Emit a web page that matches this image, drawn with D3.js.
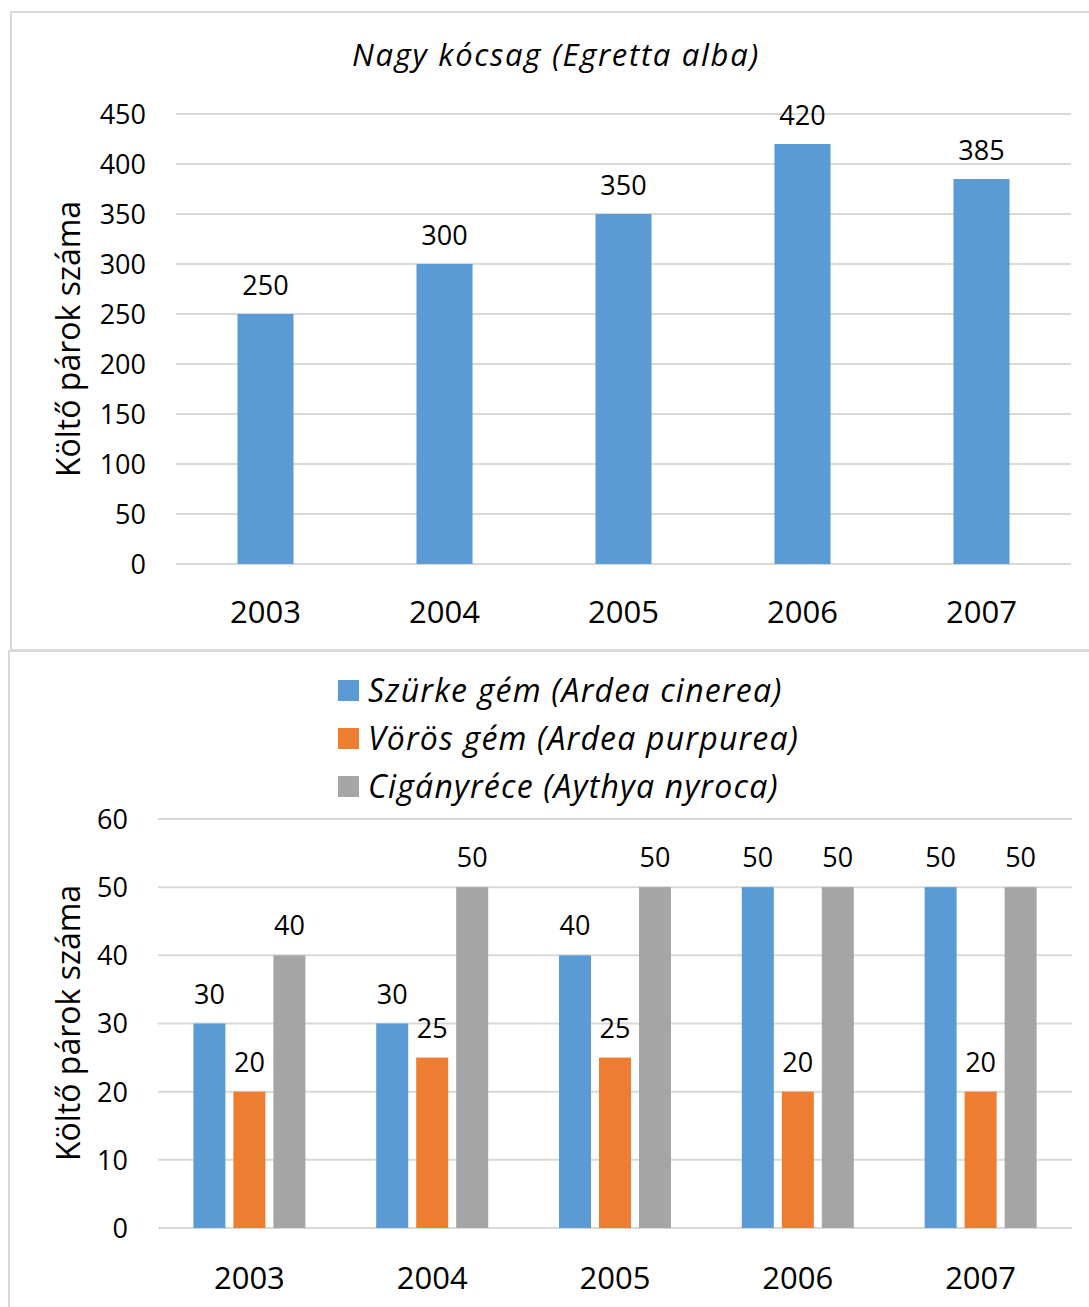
<!DOCTYPE html>
<html>
<head>
<meta charset="utf-8">
<script src="https://cdn.jsdelivr.net/npm/d3@7"></script>
<style>
html,body{margin:0;padding:0;background:#fff;}
svg{display:block;}
text{font-family:"Open Sans","Noto Sans",sans-serif;fill:#000;}
</style>
</head>
<body>
<svg id="chart" width="1089" height="1307"></svg>
<script>
// ---- Data ----
const years = ["2003","2004","2005","2006","2007"];
const egrettaValues = [250, 300, 350, 420, 385];
const topTicks = [0,50,100,150,200,250,300,350,400,450];

const seriesNames = ["Szürke gém (Ardea cinerea)","Vörös gém (Ardea purpurea)","Cigányréce (Aythya nyroca)"];
const ardeaCinerea = [30, 30, 40, 50, 50];
const ardeaPurpurea = [20, 25, 25, 20, 20];
const aythyaNyroca = [40, 50, 50, 50, 50];
const bottomTicks = [0,10,20,30,40,50,60];

const colors = ["#5b9bd5","#ed7d31","#a5a5a5"];
const titleTop = "Nagy kócsag (Egretta alba)";
const yTitle = "Költő párok száma";

const svg = d3.select("#chart");
const grid = "#d9d9d9";

// ---- Frames ----
svg.append("rect").attr("x",11).attr("y",12).attr("width",1100).attr("height",638)
  .attr("fill","none").attr("stroke",grid).attr("stroke-width",2);
svg.append("rect").attr("x",9).attr("y",651).attr("width",1100).attr("height",700)
  .attr("fill","none").attr("stroke",grid).attr("stroke-width",2);

// ---- Top chart ----
{
  const g = svg.append("g");
  const x = d3.scaleBand().domain(years).range([176,1071]).paddingInner(0.687).paddingOuter(0.3435);
  const y = d3.scaleLinear().domain([0,450]).range([564,114]);

  g.append("g").selectAll("line").data(topTicks).join("line")
    .attr("x1",176).attr("x2",1071).attr("y1",d=>y(d)).attr("y2",d=>y(d))
    .attr("stroke",grid).attr("stroke-width",2);

  const yAxis = d3.axisLeft(y).tickValues(topTicks).tickSize(0).tickPadding(0);
  const ya = g.append("g").attr("transform","translate(146,0)").call(yAxis);
  ya.select(".domain").remove();
  ya.selectAll("text").attr("font-size",27).attr("font-family",null).attr("dy","0.35em");

  g.append("g").selectAll("rect").data(egrettaValues).join("rect")
    .attr("x",(d,i)=>x(years[i])).attr("width",x.bandwidth())
    .attr("y",d=>y(d)).attr("height",d=>y(0)-y(d)).attr("fill",colors[0]);

  g.append("g").selectAll("text").data(egrettaValues).join("text")
    .attr("x",(d,i)=>x(years[i])+x.bandwidth()/2).attr("y",d=>y(d)-19)
    .attr("text-anchor","middle").attr("font-size",27).text(d=>d);

  const xAxis = d3.axisBottom(x).tickSize(0).tickPadding(0);
  const xa = g.append("g").attr("transform","translate(0,564)").call(xAxis);
  xa.select(".domain").remove();
  xa.selectAll("text").attr("font-size",31).attr("font-family",null).attr("dy",0).attr("y",59);

  g.append("text").attr("x",556).attr("y",66).attr("text-anchor","middle")
    .attr("font-size",31).attr("letter-spacing",1.7).attr("font-style","italic").text(titleTop);

  g.append("text").attr("transform","translate(80,339) rotate(-90)").attr("text-anchor","middle")
    .attr("font-size",32).text(yTitle);
}

// ---- Bottom chart ----
{
  const g = svg.append("g");
  const data = [ardeaCinerea, ardeaPurpurea, aythyaNyroca];
  const x0 = d3.scaleBand().domain(years).range([158,1072]).padding(0);
  const x1 = d3.scaleBand().domain(d3.range(3)).range([0,x0.bandwidth()]).paddingInner(0.2).paddingOuter(0.885);
  const y = d3.scaleLinear().domain([0,60]).range([1228,819]);

  g.append("g").selectAll("line").data(bottomTicks).join("line")
    .attr("x1",158).attr("x2",1072).attr("y1",d=>y(d)).attr("y2",d=>y(d))
    .attr("stroke",grid).attr("stroke-width",2);

  const yAxis = d3.axisLeft(y).tickValues(bottomTicks).tickSize(0).tickPadding(0);
  const ya = g.append("g").attr("transform","translate(128,0)").call(yAxis);
  ya.select(".domain").remove();
  ya.selectAll("text").attr("font-size",27).attr("font-family",null).attr("dy","0.35em");

  const flat = [];
  data.forEach((arr,s)=>arr.forEach((v,i)=>flat.push({s,i,v})));

  g.append("g").selectAll("rect").data(flat).join("rect")
    .attr("x",d=>x0(years[d.i])+x1(d.s)).attr("width",x1.bandwidth())
    .attr("y",d=>y(d.v)).attr("height",d=>y(0)-y(d.v)).attr("fill",d=>colors[d.s]);

  g.append("g").selectAll("text").data(flat).join("text")
    .attr("x",d=>x0(years[d.i])+x1(d.s)+x1.bandwidth()/2).attr("y",d=>y(d.v)-20)
    .attr("text-anchor","middle").attr("font-size",27).text(d=>d.v);

  const xAxis = d3.axisBottom(x0).tickSize(0).tickPadding(0);
  const xa = g.append("g").attr("transform","translate(0,1228)").call(xAxis);
  xa.select(".domain").remove();
  xa.selectAll("text").attr("font-size",31).attr("font-family",null).attr("dy",0).attr("y",61);

  g.append("text").attr("transform","translate(80,1023) rotate(-90)").attr("text-anchor","middle")
    .attr("font-size",32).text(yTitle);

  const leg = g.append("g").selectAll("g").data(seriesNames).join("g")
    .attr("transform",(d,i)=>`translate(338,${691+i*48})`);
  leg.append("rect").attr("x",0).attr("y",-11).attr("width",21).attr("height",21).attr("fill",(d,i)=>colors[i]);
  leg.append("text").attr("x",30).attr("y",11).attr("font-size",32).attr("letter-spacing",1.2)
    .attr("font-style","italic").text(d=>d);
}
</script>
</body>
</html>
